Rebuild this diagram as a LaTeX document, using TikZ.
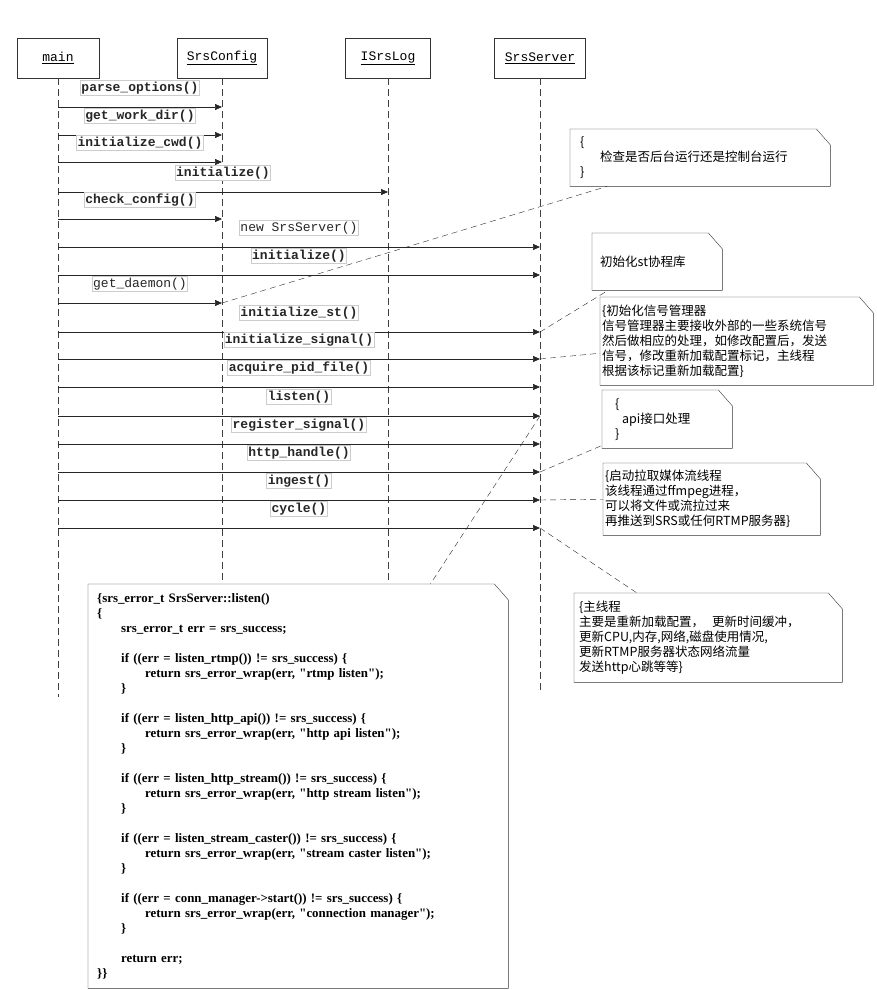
\documentclass[tikz,border=0pt]{standalone}
\usepackage{fontspec}
\setmonofont{Liberation Mono}
\newfontfamily\codefont{Liberation Serif}
\newfontfamily\cjk{Noto Sans CJK SC}
\usetikzlibrary{arrows.meta}
\tikzset{>={Triangle[length=7pt,width=6pt]}}
\newcommand\codeind{\hspace*{24pt}}

\begin{document}
\begin{tikzpicture}[x=1pt, y=-1pt,
    head/.style={draw=black!80, minimum height=40pt, font=\ttfamily\fontsize{13}{15}\selectfont},
    life/.style={black!75, dash pattern=on 7pt off 4pt},
    msg/.style={->, black!85, line width=0.7pt},
    lbl/.style={draw=black!20, fill=white, inner sep=1pt, text height=10pt, text depth=3pt,
      font=\ttfamily\bfseries\fontsize{13}{15}\selectfont, midway, yshift=19pt},
    lbl thin/.style={lbl, font=\ttfamily\fontsize{13}{15}\selectfont},
    note/.style={fill=white, anchor=north west, align=left, inner ysep=0pt,
      font=\cjk\fontsize{12.5}{15}\selectfont},
    link/.style={black!85, dash pattern=on 6pt off 4pt}]

  \useasboundingbox (0,0) rectangle (877,990);

  % heads
  \node[head, minimum width=82pt] (main) at (58,58) {\underline{main}};
  \node[head, minimum width=90pt] (config) at (222,58) {\underline{SrsConfig}};
  \node[head, minimum width=85pt] (log) at (388,58) {\underline{ISrsLog}};
  \node[head, minimum width=91pt] (server) at (540,58) {\underline{SrsServer}};

  % lifelines
  \coordinate (mainEnd) at (58,697);
  \coordinate (configEnd) at (222,697);
  \coordinate (logEnd) at (388,697);
  \coordinate (serverEnd) at (540,690);
  \draw[life] (main) -- (mainEnd);
  \draw[life] (config) -- (configEnd);
  \draw[life] (log) -- (logEnd);
  \draw[life] (server) -- (serverEnd);

  % calls
  \coordinate (daemonTip) at (config |- 0,303);
  \coordinate (stTip) at (server |- 0,332);
  \coordinate (signalTip) at (server |- 0,359);
  \coordinate (listenTip) at (server |- 0,416);
  \coordinate (httpTip) at (server |- 0,472);
  \coordinate (ingestTip) at (server |- 0,500);
  \coordinate (cycleTip) at (server |- 0,528);
  \draw[msg] (main |- 0,107) -- (config |- 0,107) node[lbl] {parse\_options()};
  \draw[msg] (main |- 0,135) -- (config |- 0,135) node[lbl] {get\_work\_dir()};
  \draw[msg] (main |- 0,162) -- (config |- 0,162) node[lbl] {initialize\_cwd()};
  \draw[msg] (main |- 0,192) -- (log |- 0,192) node[lbl] {initialize()};
  \draw[msg] (main |- 0,219) -- (config |- 0,219) node[lbl] {check\_config()};
  \draw[msg] (main |- 0,247) -- (server |- 0,247) node[lbl thin] {new SrsServer()};
  \draw[msg] (main |- 0,275) -- (server |- 0,275) node[lbl] {initialize()};
  \draw[msg] (main |- daemonTip) -- (daemonTip) node[lbl thin] {get\_daemon()};
  \draw[msg] (main |- stTip) -- (stTip) node[lbl] {initialize\_st()};
  \draw[msg] (main |- signalTip) -- (signalTip) node[lbl] {initialize\_signal()};
  \draw[msg] (main |- 0,387) -- (server |- 0,387) node[lbl] {acquire\_pid\_file()};
  \draw[msg] (main |- listenTip) -- (listenTip) node[lbl] {listen()};
  \draw[msg] (main |- 0,444) -- (server |- 0,444) node[lbl] {register\_signal()};
  \draw[msg] (main |- httpTip) -- (httpTip) node[lbl] {http\_handle()};
  \draw[msg] (main |- ingestTip) -- (ingestTip) node[lbl] {ingest()};
  \draw[msg] (main |- cycleTip) -- (cycleTip) node[lbl] {cycle()};

  % notes
  \node[note, minimum width=260pt, minimum height=57pt, text width=240pt, inner xsep=10pt] (checkNote) at (570,129)
    {\{\\\hspace*{20pt}检查是否后台运行还是控制台运行\\\}};
  \node[note, minimum width=130pt, minimum height=57pt, text width=114pt, inner xsep=8pt] (stNote) at (592,233)
    {初始化st协程库\\[4pt]};
  \node[note, minimum width=273pt, minimum height=88pt, text width=269pt, inner xsep=2pt] (sigNote) at (600,297)
    {\{初始化信号管理器\\
     信号管理器主要接收外部的一些系统信号\\
     然后做相应的处理，如修改配置后，发送\\
     信号，修改重新加载配置标记，主线程\\
     根据该标记重新加载配置\}};
  \node[note, minimum width=130pt, minimum height=58pt, text width=104pt, inner xsep=13pt] (apiNote) at (602,390)
    {\{\\\hspace*{7pt}api接口处理\\\}};
  \node[note, minimum width=217pt, minimum height=72pt, text width=213pt, inner xsep=2pt] (ingestNote) at (603,463)
    {\{启动拉取媒体流线程\\
     该线程通过ffmpeg进程，\\
     可以将文件或流拉过来\\
     再推送到SRS或任何RTMP服务器\}};
  \node[note, minimum width=268pt, minimum height=89pt, text width=258pt, inner xsep=5pt] (mainNote) at (574,593)
    {\{主线程\\
     主要是重新加载配置，\hspace{8pt}更新时间缓冲，\\
     更新CPU,内存,网络,磁盘使用情况,\\
     更新RTMP服务器状态网络流量\\
     发送http心跳等等\}};
  \node[note, minimum width=420pt, minimum height=404pt, text width=402pt, inner xsep=9pt,
        font=\codefont\bfseries\fontsize{12.9}{15}\selectfont] (codeNote) at (88,584)
    {\{srs\_error\_t SrsServer::listen()\\
     \{\\
     \codeind srs\_error\_t err = srs\_success;\\[15pt]
     \codeind if ((err = listen\_rtmp()) != srs\_success) \{\\
     \codeind\codeind return srs\_error\_wrap(err, "rtmp listen");\\
     \codeind\}\\[15pt]
     \codeind if ((err = listen\_http\_api()) != srs\_success) \{\\
     \codeind\codeind return srs\_error\_wrap(err, "http api listen");\\
     \codeind\}\\[15pt]
     \codeind if ((err = listen\_http\_stream()) != srs\_success) \{\\
     \codeind\codeind return srs\_error\_wrap(err, "http stream listen");\\
     \codeind\}\\[15pt]
     \codeind if ((err = listen\_stream\_caster()) != srs\_success) \{\\
     \codeind\codeind return srs\_error\_wrap(err, "stream caster listen");\\
     \codeind\}\\[15pt]
     \codeind if ((err = conn\_manager->start()) != srs\_success) \{\\
     \codeind\codeind return srs\_error\_wrap(err, "connection manager");\\
     \codeind\}\\[15pt]
     \codeind return err;\\
     \}\}};
  \foreach \n in {checkNote,stNote,sigNote,apiNote,ingestNote,mainNote,codeNote}
    \draw[black!80] (\n.north west) -- ([xshift=-14pt]\n.north east) -- ([yshift=-16pt]\n.north east)
      -- (\n.south east) -- (\n.south west) -- cycle;

  % links
  \draw[link] (daemonTip) -- ([xshift=37pt]checkNote.south west);
  \draw[link] (stTip) -- ([xshift=16pt]stNote.south west);
  \draw[link] (signalTip) -- ([yshift=-12pt]sigNote.west);
  \draw[link] (listenTip) -- ([xshift=-78pt]codeNote.north east);
  \draw[link] (httpTip) -- ([yshift=3pt]apiNote.south west);
  \draw[link] (ingestTip) -- (ingestNote.west);
  \draw[link] (cycleTip) -- ([xshift=63pt]mainNote.north west);
\end{tikzpicture}
\end{document}
